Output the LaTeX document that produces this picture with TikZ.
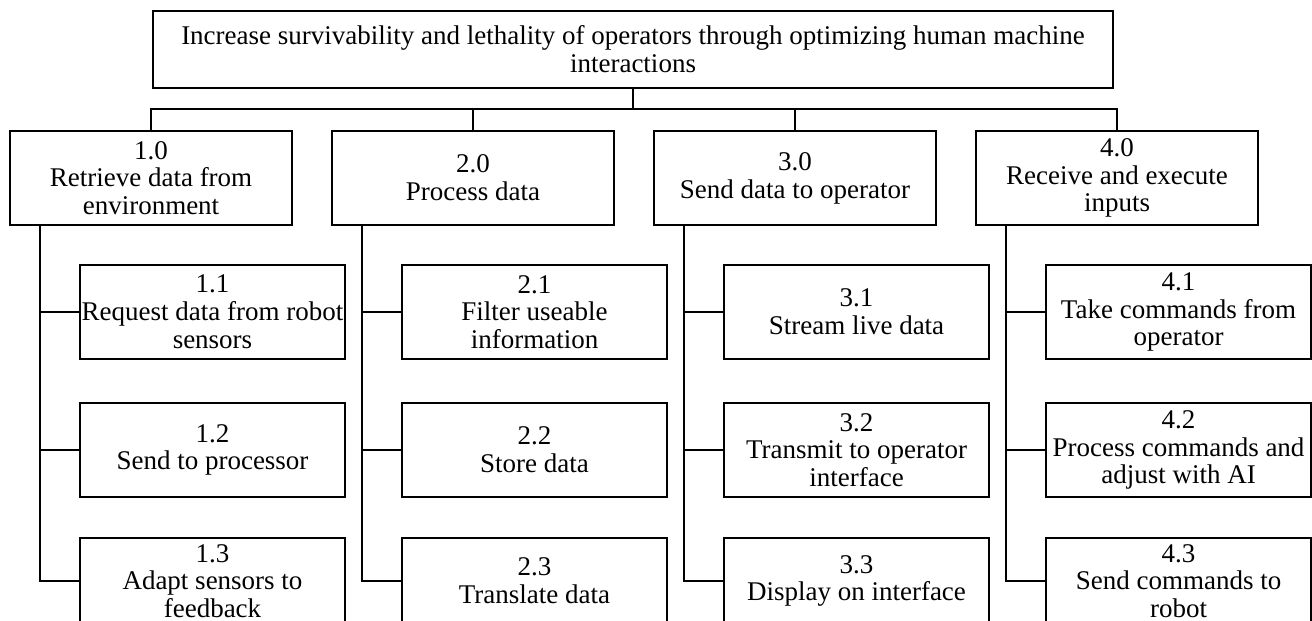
\documentclass[tikz,border=0pt]{standalone}
\usepackage{fontspec}
\setmainfont{Liberation Serif}
\begin{document}
\begin{tikzpicture}[x=1pt,y=1pt,
  box/.style={draw=black,line width=2.7pt,rectangle,align=center,inner sep=1pt,outer sep=0pt,
    font=\fontsize{27}{27.8}\selectfont},
  topbox/.style={box,minimum width=960pt,minimum height=77pt},
  lonebox/.style={box,minimum width=282pt,minimum height=94pt},
  subbox/.style={box,minimum width=265pt,minimum height=94pt},
  lastbox/.style={box,minimum width=265pt,minimum height=86pt},
  link/.style={draw=black,line width=2.5pt,line cap=rect}]
\useasboundingbox (0,0) rectangle (1312,-621);
\clip (0,0) rectangle (1312,-621);
\fill[white] (0,0) rectangle (1312,-621);

\node[topbox] (top) at (633,-49.5) {Increase survivability and lethality of operators through optimizing human machine\\interactions};

\node[lonebox] (n1) at (151,-178) {1.0\\Retrieve data from\\environment};
\node[lonebox] (n2) at (473,-178) {2.0\\Process data};
\node[lonebox] (n3) at (795,-178) {3.0\\Send data to operator};
\node[lonebox] (n4) at (1117,-178) {4.0\\Receive and execute\\inputs};

\node[subbox] (n11) at (212.5,-312) {1.1\\Request data from robot\\sensors};
\node[subbox] (n12) at (212.5,-450) {1.2\\Send to processor};
\node[lastbox] (n13) at (212.5,-581) {1.3\\Adapt sensors to\\feedback};

\node[subbox] (n21) at (534.5,-312) {2.1\\Filter useable\\information};
\node[subbox] (n22) at (534.5,-450) {2.2\\Store data};
\node[lastbox] (n23) at (534.5,-581) {2.3\\Translate data};

\node[subbox] (n31) at (856.5,-312) {3.1\\Stream live data};
\node[subbox] (n32) at (856.5,-450) {3.2\\Transmit to operator\\interface};
\node[lastbox] (n33) at (856.5,-581) {3.3\\Display on interface};

\node[subbox] (n41) at (1178.5,-312) {4.1\\Take commands from\\operator};
\node[subbox] (n42) at (1178.5,-450) {4.2\\Process commands and\\adjust with AI};
\node[lastbox] (n43) at (1178.5,-581) {4.3\\Send commands to\\robot};

\coordinate (bus) at (0,-109);
\draw[link] (top.south) -- (top.south |- bus);
\draw[link] (n1.north) -- (n1.north |- bus) -| (n4.north);
\draw[link] (n2.north) -- (n2.north |- bus);
\draw[link] (n3.north) -- (n3.north |- bus);

\foreach \p in {1,2,3,4}{
  \coordinate (s\p) at ([xshift=30pt]n\p.south west);
  \draw[link] (s\p) |- (n\p3.west);
  \draw[link] (s\p |- n\p1.west) -- (n\p1.west);
  \draw[link] (s\p |- n\p2.west) -- (n\p2.west);
}
\end{tikzpicture}
\end{document}
